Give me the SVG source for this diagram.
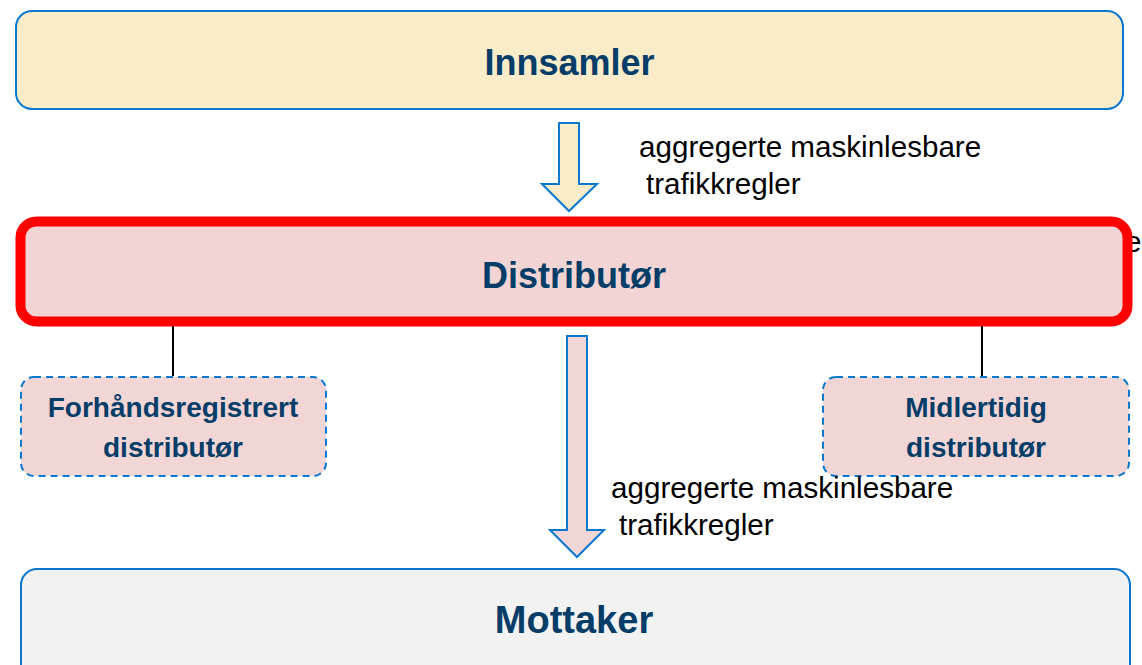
<svg xmlns="http://www.w3.org/2000/svg" width="1142" height="665" viewBox="0 0 1142 665">
<style>
.title{font-family:"Liberation Sans",Arial,sans-serif;font-weight:bold;font-size:36px;fill:#053d69;text-anchor:middle}
.sub{font-family:"Liberation Sans",Arial,sans-serif;font-weight:bold;font-size:28px;fill:#053d69;text-anchor:middle}
.lbl{font-family:"Liberation Sans",Arial,sans-serif;font-size:29.6px;fill:#000}
.dash{fill:#f2d5d5;stroke:#0a78cf;stroke-width:2;stroke-dasharray:7 5}
.arrow{stroke:#0a78cf;stroke-width:2;stroke-linejoin:miter}
</style>
<rect width="1142" height="665" fill="#ffffff"/>
<text class="lbl" x="1125" y="252">e</text>
<g id="innsamler">
<rect x="16" y="11" width="1107" height="98" rx="16" fill="#faebc9" stroke="#0a78cf" stroke-width="2"/>
<text class="title" x="569.5" y="75">Innsamler</text>
</g>
<g id="distributor">
<rect x="20.5" y="221.5" width="1107" height="100" rx="16" fill="#f2d4d4" stroke="#ff0000" stroke-width="10"/>
<text class="title" x="574" y="288">Distributør</text>
</g>
<g id="forhandsregistrert">
<rect class="dash" x="21" y="377" width="305" height="99" rx="13"/>
<text class="sub" x="173" y="417">Forhåndsregistrert</text>
<text class="sub" x="173" y="457">distributør</text>
</g>
<g id="midlertidig">
<rect class="dash" x="823" y="377" width="306" height="99" rx="13"/>
<text class="sub" x="976" y="417">Midlertidig</text>
<text class="sub" x="976" y="457">distributør</text>
</g>
<g id="mottaker">
<rect x="21" y="569" width="1109" height="120" rx="16" fill="#f2f2f2" stroke="#0a78cf" stroke-width="2"/>
<text class="title" x="574" y="633" style="font-size:38px">Mottaker</text>
</g>
<g id="connectors">
<line x1="173" y1="326" x2="173" y2="376" stroke="#000" stroke-width="2"/>
<line x1="982" y1="326" x2="982" y2="376" stroke="#000" stroke-width="2"/>
<polygon class="arrow" fill="#faebc9" points="559,123 579,123 579,184 597,184 569,211 542,184 559,184"/>
<polygon class="arrow" fill="#f2d5d5" points="567,336 587,336 587,530 604,530 577,557 550,530 567,530"/>
<text class="lbl" x="639" y="157">aggregerte maskinlesbare</text>
<text class="lbl" x="646" y="194">trafikkregler</text>
<text class="lbl" x="611" y="498">aggregerte maskinlesbare</text>
<text class="lbl" x="619" y="535">trafikkregler</text>
</g>
</svg>
